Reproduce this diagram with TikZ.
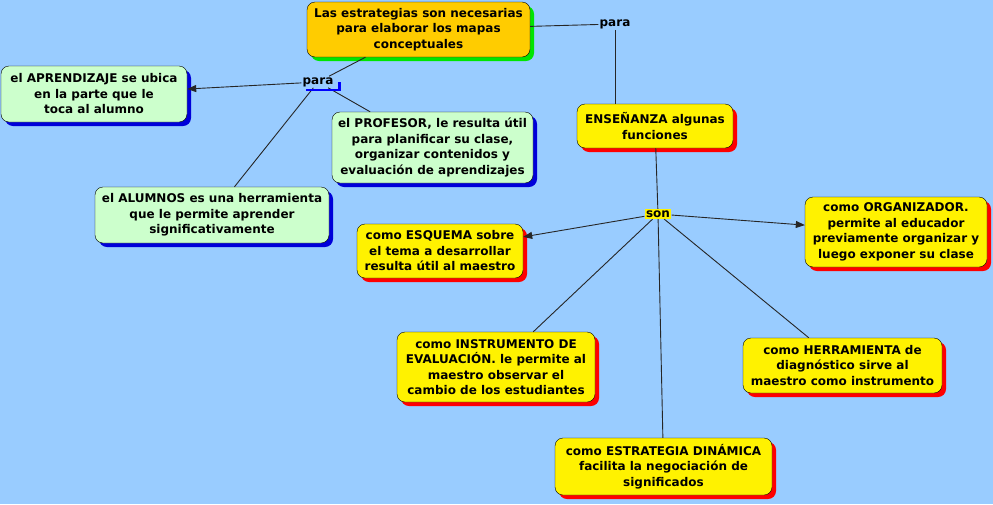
\documentclass[tikz,border=0pt]{standalone}
\usepackage{fontspec}
\setmainfont{DejaVu Sans}
\usetikzlibrary{positioning,arrows.meta,shadows,calc}
\definecolor{fondo}{RGB}{153,204,255}
\definecolor{verdeclaro}{RGB}{204,255,204}
\definecolor{naranja}{RGB}{255,204,0}

\begin{document}
\begin{tikzpicture}[x=1pt, y=-1pt, >={Triangle[length=9pt,width=7pt]},
    concepto/.style={draw=black, rounded corners=8pt, align=center, inner sep=0pt,
        font=\bfseries\fontsize{12}{15.5}\selectfont},
    verde/.style={concepto, fill=verdeclaro,
        drop shadow={shadow xshift=4pt, shadow yshift=-4pt, fill=blue!85!black, opacity=1}},
    amarillo/.style={concepto, fill=yellow,
        drop shadow={shadow xshift=4pt, shadow yshift=-4pt, fill=red, opacity=1}},
    enlace/.style={inner sep=1pt, font=\bfseries\fontsize{12}{14}\selectfont},
    linea/.style={draw=black!85, line width=0.9pt}]

    % fondo
    \fill[fondo] (0,0) rectangle (993,504);

    % concepto principal
    \node[concepto, fill=naranja, minimum width=223, minimum height=55,
        drop shadow={shadow xshift=4pt, shadow yshift=-4pt, fill=green!90!black, opacity=1}]
        (estrategias) at (418.5,29.5) {Las estrategias son necesarias\\para elaborar los mapas\\conceptuales};

    % palabras de enlace
    \node[enlace] (para1) at (318,82) {para};
    \node[enlace] (para2) at (615,24) {para};
    \node[enlace, fill=yellow, inner sep=1.5pt] (son) at (658,214) {son};

    % rama izquierda
    \node[verde, minimum width=186, minimum height=56] (aprendizaje) at (94,94)
        {el APRENDIZAJE se ubica\\en la parte que le\\toca al alumno};
    \node[verde, minimum width=201, minimum height=71] (profesor) at (432.5,147.5)
        {el PROFESOR, le resulta útil\\para planificar su clase,\\organizar contenidos y\\evaluación de aprendizajes};
    \node[verde, minimum width=234, minimum height=56] (alumnos) at (212,215)
        {el ALUMNOS es una herramienta\\que le permite aprender\\significativamente};

    % rama derecha
    \node[amarillo, minimum width=156, minimum height=44] (ensenanza) at (655,126)
        {ENSEÑANZA algunas\\funciones};
    \node[amarillo, minimum width=166, minimum height=54] (esquema) at (440,251)
        {como ESQUEMA sobre\\el tema a desarrollar\\resulta útil al maestro};
    \node[amarillo, minimum width=182, minimum height=70] (organizador) at (896,232)
        {como ORGANIZADOR.\\permite al educador\\previamente organizar y\\luego exponer su clase};
    \node[amarillo, minimum width=198, minimum height=70] (instrumento) at (496,367)
        {como INSTRUMENTO DE\\EVALUACIÓN. le permite al\\maestro observar el\\cambio de los estudiantes};
    \node[amarillo, minimum width=199, minimum height=55] (herramienta) at (842.5,365.5)
        {como HERRAMIENTA de\\diagnóstico sirve al\\maestro como instrumento};
    \node[amarillo, minimum width=217, minimum height=57] (dinamica) at (663.5,466.5)
        {como ESTRATEGIA DINÁMICA\\facilita la negociación de\\significados};

    % conectores
    \draw[linea] (estrategias) -- (para1);
    \draw[linea, ->] (para1) -- (aprendizaje);
    \draw[linea] (para1) -- (profesor);
    \draw[linea] (para1) -- (alumnos);
    \draw[blue, line width=2.5pt] ($(para1.south west)+(5,2)$) -- ++(33,0) -- ++(0,-8);

    \draw[linea] (estrategias) -- (para2);
    \draw[linea] (para2) -- (para2 |- ensenanza.north);
    \draw[linea] (ensenanza) -- (son);
    \draw[linea, ->] (son) -- (esquema);
    \draw[linea, ->] (son) -- (organizador);
    \draw[linea] (son) -- (instrumento);
    \draw[linea] (son) -- (herramienta);
    \draw[linea] (son) -- (dinamica);
\end{tikzpicture}
\end{document}
